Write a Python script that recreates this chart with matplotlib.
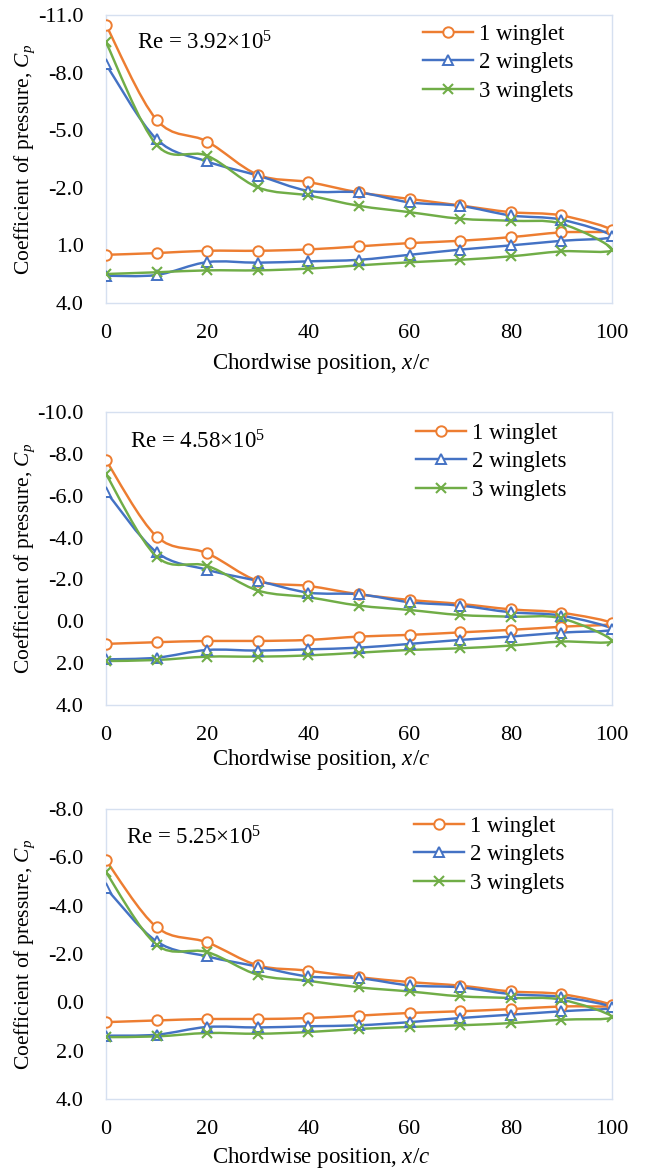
import numpy as np
import matplotlib
matplotlib.use("Agg")
import matplotlib.pyplot as plt
from matplotlib.path import Path
from matplotlib.patches import PathPatch
from matplotlib.lines import Line2D

plt.rcParams['font.family'] = ['Liberation Serif', 'DejaVu Serif']
plt.rcParams['mathtext.fontset'] = 'custom'
plt.rcParams['mathtext.rm'] = 'Liberation Serif'
plt.rcParams['mathtext.it'] = 'Liberation Serif:italic'

# ---------------- data ----------------
x_pos = [0, 10, 20, 30, 40, 50, 60, 70, 80, 90, 100]
series_names = ["1 winglet", "2 winglets", "3 winglets"]
re_labels = ["Re = 3.92×10$^5$", "Re = 4.58×10$^5$", "Re = 5.25×10$^5$"]

# Panel 1 (Re 3.92e5): upper surface x=0..100, lower surface x=0..90 (x=100 shared)
p1_upper_1 = [-10.48, -5.54, -4.41, -2.68, -2.30, -1.76, -1.42, -1.08, -0.73, -0.56, 0.22]
p1_upper_2 = [-8.43, -4.53, -3.37, -2.64, -1.84, -1.76, -1.24, -1.06, -0.56, -0.34, 0.53]
p1_upper_3 = [-9.58, -4.24, -3.67, -2.02, -1.60, -1.06, -0.73, -0.39, -0.28, -0.13, 1.22]
p1_lower_1 = [1.49, 1.40, 1.28, 1.28, 1.21, 1.05, 0.88, 0.76, 0.57, 0.32]
p1_lower_2 = [2.58, 2.54, 1.87, 1.90, 1.83, 1.75, 1.49, 1.22, 1.00, 0.76]
p1_lower_3 = [2.49, 2.40, 2.30, 2.30, 2.21, 2.04, 1.88, 1.75, 1.57, 1.31]

# Panel 2 (Re 4.58e5)
p2_upper_1 = [-7.69, -4.05, -3.25, -1.93, -1.69, -1.29, -1.02, -0.83, -0.57, -0.41, 0.10]
p2_upper_2 = [-6.20, -3.30, -2.46, -1.93, -1.37, -1.29, -0.91, -0.75, -0.43, -0.27, 0.38]
p2_upper_3 = [-7.03, -3.09, -2.65, -1.47, -1.15, -0.75, -0.54, -0.30, -0.22, -0.14, 0.94]
p2_lower_1 = [1.08, 1.00, 0.94, 0.94, 0.89, 0.73, 0.65, 0.53, 0.41, 0.26]
p2_lower_2 = [1.82, 1.74, 1.37, 1.40, 1.34, 1.26, 1.08, 0.89, 0.73, 0.54]
p2_lower_3 = [1.90, 1.85, 1.69, 1.69, 1.63, 1.50, 1.37, 1.29, 1.16, 0.97]

# Panel 3 (Re 5.25e5)
p3_upper_1 = [-5.87, -3.11, -2.48, -1.53, -1.31, -1.04, -0.84, -0.69, -0.45, -0.34, 0.13]
p3_upper_2 = [-4.72, -2.52, -1.90, -1.48, -1.07, -1.00, -0.70, -0.62, -0.34, -0.22, 0.21]
p3_upper_3 = [-5.38, -2.38, -2.08, -1.14, -0.89, -0.62, -0.45, -0.25, -0.18, -0.11, 0.61]
p3_lower_1 = [0.82, 0.75, 0.69, 0.69, 0.65, 0.55, 0.44, 0.37, 0.28, 0.17]
p3_lower_2 = [1.38, 1.34, 1.02, 1.04, 0.99, 0.95, 0.82, 0.65, 0.51, 0.37]
p3_lower_3 = [1.44, 1.41, 1.27, 1.30, 1.23, 1.10, 1.02, 0.95, 0.86, 0.72]

y_ticks_1 = [-11.0, -8.0, -5.0, -2.0, 1.0, 4.0]
y_ticks_2 = [-10.0, -8.0, -6.0, -4.0, -2.0, 0.0, 2.0, 4.0]
y_ticks_3 = [-8.0, -6.0, -4.0, -2.0, 0.0, 2.0, 4.0]
x_ticks = [0, 20, 40, 60, 80, 100]

panels = [
    dict(upper=[p1_upper_1, p1_upper_2, p1_upper_3], lower=[p1_lower_1, p1_lower_2, p1_lower_3],
         yticks=y_ticks_1, re=re_labels[0]),
    dict(upper=[p2_upper_1, p2_upper_2, p2_upper_3], lower=[p2_lower_1, p2_lower_2, p2_lower_3],
         yticks=y_ticks_2, re=re_labels[1]),
    dict(upper=[p3_upper_1, p3_upper_2, p3_upper_3], lower=[p3_lower_1, p3_lower_2, p3_lower_3],
         yticks=y_ticks_3, re=re_labels[2]),
]

# ---------------- style / layout (pixels) ----------------
colors = ["#ED7D31", "#4472C4", "#70AD47"]
markers = ["o", "^", "x"]
W, H = 645, 1171
boxes = [(15, 303), (412, 705), (809, 1099)]      # (top, bottom) of plot areas
left_px, right_px = 106, 612
re_pos_px = [(137, 43), (130, 442), (126, 838)]     # left, vertical centre
legend_pos_px = [(423, 38), (416, 437), (414, 830)]  # left, first-row centre
xlabel_y_px = [363, 760, 1157]
xlabel_x_px = 321
ylabel_x_px = 25
spine_col = "#D6E0F0"
LW = 1.75


def smooth_path(xs, ys):
    """Excel-like smoothed line drawn as cubic Bezier segments through the points."""
    pts = np.column_stack([xs, ys]).astype(float)
    n = len(pts)
    verts = [pts[0]]
    codes = [Path.MOVETO]
    t = 1.0 / 6.0
    for i in range(n - 1):
        p0 = pts[i - 1] if i > 0 else pts[i]
        p1 = pts[i]
        p2 = pts[i + 1]
        p3 = pts[i + 2] if i + 2 < n else pts[i + 1]
        c1 = p1 + (p2 - p0) * t
        c2 = p2 - (p3 - p1) * t
        verts += [c1, c2, p2]
        codes += [Path.CURVE4] * 3
    return Path(verts, codes)


fig = plt.figure(figsize=(W / 100, H / 100), dpi=100)

LEG_FS = 16.5
for pi, panel in enumerate(panels):
    top, bot = boxes[pi]
    hpx = bot - top
    wpx = right_px - left_px
    ax = fig.add_axes([left_px / W, 1 - bot / H, wpx / W, hpx / H])
    handles = []
    for si in range(3):
        up = panel["upper"][si]
        lo = panel["lower"][si]
        xs = list(x_pos) + list(x_pos[:-1][::-1])
        ys = list(up) + list(lo[::-1])
        patch = PathPatch(smooth_path(xs, ys), facecolor="none", edgecolor=colors[si],
                          lw=LW, zorder=2 + si, capstyle="round", joinstyle="round")
        ax.add_patch(patch)
        if markers[si] == "x":
            kw = dict(marker="x", ms=7, mew=1.5, mec=colors[si])
        else:
            kw = dict(marker=markers[si], ms=7.5, mew=1.4, mfc="white", mec=colors[si])
        ax.plot(xs, ys, linestyle="none", color=colors[si], zorder=5 + si, **kw)
        handles.append(Line2D([], [], color=colors[si], lw=LW, **kw))
    yt = panel["yticks"]
    ax.set_xlim(0, 100)
    ax.set_ylim(yt[-1], yt[0])
    ax.set_yticks(yt)
    ax.set_yticklabels([f"{v:.1f}" for v in yt])
    ax.set_xticks(x_ticks)
    ax.set_xticklabels([str(v) for v in x_ticks])
    ax.tick_params(axis="both", length=0, labelsize=16, colors="black")
    ax.tick_params(axis="x", pad=15)
    ax.tick_params(axis="y", pad=16)
    for s in ax.spines.values():
        s.set_color(spine_col)
        s.set_linewidth(1.0)
    ax.set_xlabel("Chordwise position, $x/c$", fontsize=16.5)
    ax.xaxis.set_label_coords((xlabel_x_px - left_px) / wpx, -(xlabel_y_px[pi] - bot) / hpx)
    ax.xaxis.label.set_va("center")
    ax.set_ylabel("Coefficient of pressure, $C_p$", fontsize=15.5)
    ax.yaxis.set_label_coords(-(left_px - ylabel_x_px) / wpx, 0.5)
    ax.yaxis.label.set_va("center")
    rx, ry = re_pos_px[pi]
    ax.text((rx - left_px) / wpx, 1 - (ry - top) / hpx, panel["re"], transform=ax.transAxes,
            fontsize=16.5, ha="left", va="center")
    lx, ly = legend_pos_px[pi]
    row_top = ly - 0.62 * LEG_FS * 100 / 72
    ax.legend(handles, series_names, loc="upper left", frameon=False, fontsize=LEG_FS,
              handlelength=2.2, handletextpad=0.25, labelspacing=0.32,
              borderaxespad=0.0, borderpad=0.0,
              bbox_to_anchor=((lx - left_px) / wpx, 1 - (row_top - top) / hpx))

fig.savefig("out.png", dpi=100)
